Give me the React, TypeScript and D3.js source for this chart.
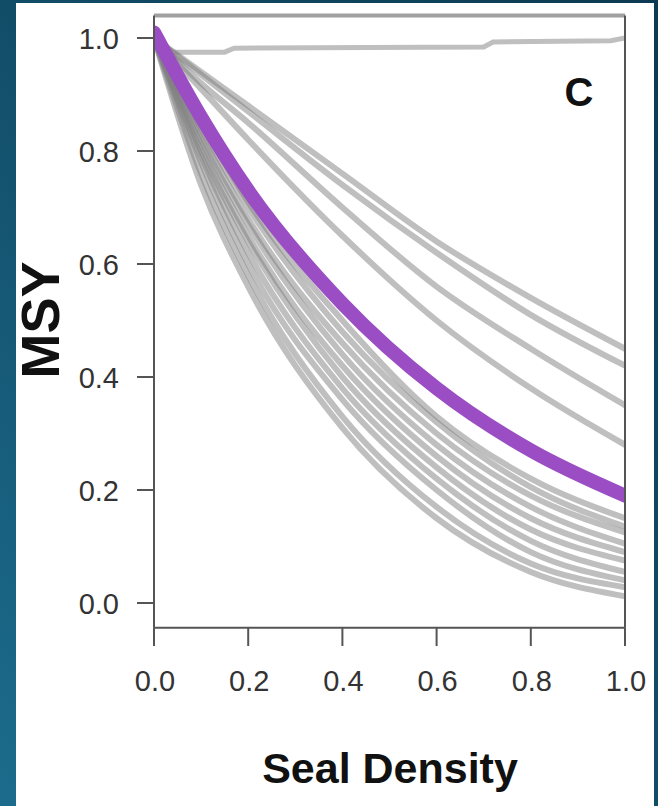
import React from "react";
import * as d3 from "d3";

// seal density sample points
const densityX = [0, 0.1, 0.2, 0.4, 0.6, 0.8, 1.0];

// gray curves that stay high
const upperCurves = [
  [1.0, 0.94, 0.88, 0.76, 0.64, 0.54, 0.45],
  [1.0, 0.935, 0.87, 0.74, 0.62, 0.51, 0.42],
  [1.0, 0.92, 0.85, 0.7, 0.56, 0.45, 0.35],
  [1.0, 0.91, 0.82, 0.65, 0.5, 0.38, 0.28],
];

// gray bundle below the purple one
const lowerCurves = [
  [1.0, 0.85, 0.71, 0.5, 0.33, 0.22, 0.15],
  [1.0, 0.84, 0.7, 0.48, 0.32, 0.205, 0.135],
  [1.0, 0.83, 0.68, 0.46, 0.3, 0.19, 0.125],
  [1.0, 0.82, 0.67, 0.44, 0.28, 0.17, 0.105],
  [1.0, 0.81, 0.65, 0.42, 0.26, 0.15, 0.09],
  [1.0, 0.8, 0.64, 0.4, 0.24, 0.13, 0.075],
  [1.0, 0.79, 0.62, 0.38, 0.22, 0.11, 0.055],
  [1.0, 0.78, 0.6, 0.36, 0.2, 0.09, 0.04],
  [1.0, 0.76, 0.58, 0.33, 0.17, 0.07, 0.028],
  [1.0, 0.74, 0.56, 0.31, 0.15, 0.055, 0.012],
];

const purpleCurve = [1.01, 0.86, 0.73, 0.53, 0.38, 0.27, 0.19];

// nearly flat curve at the top
const flatX = [0, 0.04, 0.15, 0.17, 0.7, 0.72, 0.97, 1.0];
const flatY = [1.0, 0.975, 0.975, 0.982, 0.984, 0.993, 0.995, 1.0];

const xTicks = [0, 0.2, 0.4, 0.6, 0.8, 1.0];
const yTicks = [0, 0.2, 0.4, 0.6, 0.8, 1.0];

const W = 658;
const H = 806;

const x = d3.scaleLinear().domain([0, 1]).range([154, 625]);
const y = d3.scaleLinear().domain([0, 1]).range([603, 38]);

const line = d3
  .line<[number, number]>()
  .x((d) => x(d[0]))
  .y((d) => y(d[1]))
  .curve(d3.curveMonotoneX);

const flatLine = d3
  .line<[number, number]>()
  .x((d) => x(d[0]))
  .y((d) => y(d[1]));

const pts = (vals: number[]) => densityX.map((d, i) => [d, vals[i]] as [number, number]);

const App = () => {
  const top = y(1.04);
  const bottom = y(-0.044);
  const left = x(0);
  const right = x(1);
  const font = "'Liberation Sans', Arial, Helvetica, sans-serif";
  const gray = { stroke: "#808080", strokeOpacity: 0.5, strokeWidth: 6 };

  return (
    <svg
      width={W}
      height={H}
      style={{ position: "absolute", left: 0, top: 0, display: "block" }}
    >
      <defs>
        <linearGradient id="bg" x1="1" y1="0" x2="0" y2="1">
          <stop offset="0" stopColor="#0b3a52" />
          <stop offset="0.5" stopColor="#124d68" />
          <stop offset="1" stopColor="#1c6c8d" />
        </linearGradient>
        <clipPath id="plot">
          <rect x={left} y={top} width={right - left} height={bottom - top} />
        </clipPath>
      </defs>
      <rect x={0} y={0} width={W} height={H} fill="url(#bg)" />
      <rect x={16} y={3} width={638} height={H - 3} fill="#fff" />

      <g clipPath="url(#plot)" fill="none" strokeLinecap="round">
        <path d={flatLine(flatX.map((d, i) => [d, flatY[i]]))!} {...gray} strokeWidth={5} />
        {upperCurves.map((c, i) => (
          <path key={"u" + i} d={line(pts(c))!} {...gray} />
        ))}
        {lowerCurves.map((c, i) => (
          <path key={"l" + i} d={line(pts(c))!} {...gray} />
        ))}
        <path d={line(pts(purpleCurve))!} stroke="#9b4dc4" strokeWidth={14} />
      </g>

      {/* box */}
      <line x1={left} x2={right} y1={top} y2={top} stroke="#a0a0a0" strokeWidth={4} />
      <line x1={left} x2={left} y1={top} y2={bottom} stroke="#555" strokeWidth={2} />
      <line x1={right} x2={right} y1={top} y2={bottom} stroke="#555" strokeWidth={2} />
      <line x1={left} x2={right} y1={bottom} y2={bottom} stroke="#555" strokeWidth={2} />

      {yTicks.map((t) => (
        <g key={"y" + t}>
          <line x1={137} x2={left} y1={y(t)} y2={y(t)} stroke="#555" strokeWidth={2} />
          <text
            x={119}
            y={y(t) + 11}
            textAnchor="end"
            fontFamily={font}
            fontSize={29}
            fill="#333"
          >
            {t.toFixed(1)}
          </text>
        </g>
      ))}

      {xTicks.map((t) => (
        <g key={"x" + t}>
          <line x1={x(t)} x2={x(t)} y1={bottom} y2={646} stroke="#555" strokeWidth={2} />
          <text
            x={x(t) + 1}
            y={691}
            textAnchor="middle"
            fontFamily={font}
            fontSize={29}
            fill="#333"
          >
            {t.toFixed(1)}
          </text>
        </g>
      ))}

      <text x={390} y={783} textAnchor="middle" fontFamily={font} fontSize={43} fontWeight="bold" fill="#111">
        Seal Density
      </text>
      <text
        transform="translate(59,320) rotate(-90)"
        textAnchor="middle"
        fontFamily={font}
        fontSize={54}
        fontWeight="bold"
        fill="#111"
      >
        MSY
      </text>
      <text x={579} y={106} textAnchor="middle" fontFamily={font} fontSize={40} fontWeight="bold" fill="#111">
        C
      </text>
    </svg>
  );
};

export default App;
